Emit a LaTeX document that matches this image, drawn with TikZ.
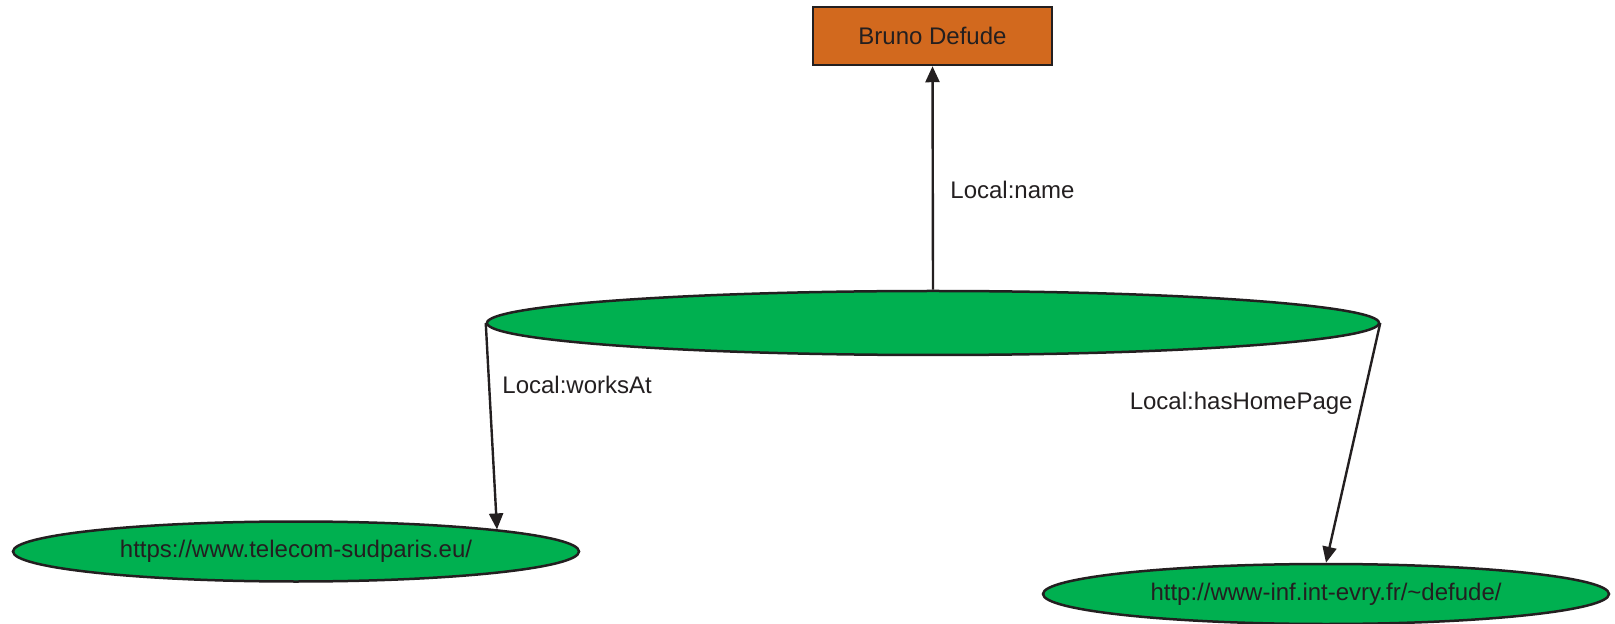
\documentclass[tikz,border=0pt]{standalone}
\usepackage{fontspec}
\setmainfont{Liberation Sans}
\usetikzlibrary{shapes.geometric,arrows.meta}
\definecolor{orng}{HTML}{D2691E}
\definecolor{grn}{HTML}{00B050}
\definecolor{ink}{HTML}{231F20}
\tikzset{
  box/.style={draw=ink, fill=orng, line width=1.25pt, rectangle, inner sep=0pt, minimum width=119.5pt, minimum height=29pt, text=ink, font=\fontsize{12}{14}\selectfont},
  oval/.style={draw=ink, fill=grn, line width=1.25pt, ellipse, inner sep=0pt, text=ink, font=\fontsize{12}{14}\selectfont},
  conn/.style={draw=ink, line width=1.2pt, -{Triangle[length=8pt,width=7pt]}},
  lbl/.style={text=ink, font=\fontsize{12}{14}\selectfont, inner sep=0pt}
}
\begin{document}
\begin{tikzpicture}[x=0.5pt,y=-0.5pt]
\useasboundingbox (0,0) rectangle (1615,624);
\node[box] (bd) at (932.5,36) {Bruno Defude};
\node[oval, minimum width=446pt, minimum height=32pt] (c) at (933,323) {};
\node[oval, minimum width=283pt, minimum height=30pt] (ws) at (296,551.5) {https://www.telecom-sudparis.eu/};
\node[oval, minimum width=283pt, minimum height=30pt] (hp) at (1326,594) {http://www-inf.int-evry.fr/\char`\~defude/};
\draw[conn] (c.north) -- (bd.south);
\draw[conn] (c.west) -- (ws.north east);
\draw[conn] (c.east) -- (hp.north);
\node[lbl, anchor=west] (l1) at (950,190) {Local:name};
\node[lbl, anchor=west] (l2) at (502,385) {Local:worksAt};
\node[lbl, anchor=east] (l3) at (1353,403) {Local:hasHomePage};
\end{tikzpicture}
\end{document}
